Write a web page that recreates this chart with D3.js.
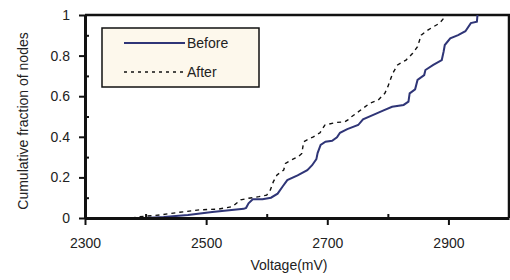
<!DOCTYPE html>
<html>
<head>
<meta charset="utf-8">
<script src="https://cdn.jsdelivr.net/npm/d3@7"></script>
<style>
  body { margin: 0; background: #fff; }
  svg { display: block; font-family: "Liberation Sans", Arial, sans-serif; }
  .tick text { font-size: 14px; fill: #222; }
</style>
</head>
<body>
<svg id="chart" width="510" height="280"></svg>
<script>
// voltage (mV) / cumulative fraction
const beforeV = [2398, 2430, 2470, 2510, 2562, 2566, 2570, 2577, 2593, 2607, 2618, 2626, 2634, 2651, 2667, 2675, 2682, 2684, 2689, 2697, 2708, 2716, 2721, 2733, 2751, 2759, 2775, 2792, 2807, 2826, 2834, 2836, 2845, 2849, 2860, 2862, 2875, 2889, 2892, 2894, 2903, 2916, 2928, 2937, 2947, 2948];
const beforeF = [0, 0.005, 0.015, 0.03, 0.045, 0.05, 0.072, 0.092, 0.092, 0.10, 0.12, 0.154, 0.187, 0.21, 0.236, 0.26, 0.29, 0.32, 0.36, 0.376, 0.38, 0.397, 0.42, 0.438, 0.458, 0.486, 0.507, 0.529, 0.548, 0.557, 0.573, 0.614, 0.634, 0.68, 0.704, 0.729, 0.754, 0.778, 0.819, 0.852, 0.885, 0.901, 0.92, 0.96, 0.967, 1.0];

const afterV = [2377, 2390, 2423, 2456, 2489, 2521, 2543, 2557, 2570, 2587, 2600, 2606, 2611, 2617, 2628, 2631, 2641, 2652, 2658, 2661, 2666, 2677, 2688, 2696, 2713, 2729, 2734, 2740, 2748, 2770, 2784, 2795, 2800, 2805, 2808, 2816, 2830, 2841, 2849, 2855, 2866, 2885, 2892, 2892];
const afterF = [0, 0.006, 0.015, 0.028, 0.04, 0.044, 0.056, 0.089, 0.097, 0.105, 0.113, 0.138, 0.179, 0.212, 0.236, 0.269, 0.286, 0.302, 0.318, 0.376, 0.384, 0.40, 0.42, 0.458, 0.47, 0.474, 0.483, 0.499, 0.516, 0.565, 0.581, 0.614, 0.647, 0.688, 0.713, 0.754, 0.778, 0.811, 0.844, 0.901, 0.926, 0.959, 0.983, 1.0];

const xMajor = [2300, 2500, 2700, 2900];
const xMinor = [2400, 2600, 2800];
const yMajor = [0, 0.2, 0.4, 0.6, 0.8, 1];
const yMinor = [0.1, 0.3, 0.5, 0.7, 0.9];
const seriesNames = ["Before", "After"];

const svg = d3.select("#chart");
const x = d3.scaleLinear().domain([2300, 3000]).range([85, 509]);
const y = d3.scaleLinear().domain([0, 1]).range([218, 15]);

const navy = "#2f3577";

// frame (top and right)
svg.append("path")
  .attr("d", `M${x.range()[0]},${y(1)}H${x.range()[1]}V${y(0)}`)
  .attr("fill", "none").attr("stroke", "#111").attr("stroke-width", 2.5);

const line = d3.line().x(d => x(d[0])).y(d => y(d[1]));
const before = beforeV.map((v, i) => [v, beforeF[i]]);
const after = afterV.map((v, i) => [v, afterF[i]]);

svg.append("path").datum(after)
  .attr("d", line).attr("fill", "none")
  .attr("stroke", "#111").attr("stroke-width", 1.4)
  .attr("stroke-dasharray", "4,4");

svg.append("path").datum(before)
  .attr("d", line).attr("fill", "none")
  .attr("stroke", navy).attr("stroke-width", 2);

// minor ticks, pointing in
svg.append("g").attr("transform", `translate(0,${y(0)})`)
  .call(d3.axisBottom(x).tickValues(xMinor).tickSize(-4).tickFormat(""))
  .call(g => g.select(".domain").remove())
  .call(g => g.selectAll("line").attr("stroke", "#111").attr("stroke-width", 2));
svg.append("g").attr("transform", `translate(${x(2300)},0)`)
  .call(d3.axisLeft(y).tickValues(yMinor).tickSize(-4).tickFormat(""))
  .call(g => g.select(".domain").remove())
  .call(g => g.selectAll("line").attr("stroke", "#111").attr("stroke-width", 2));

// major axes
const xAxis = svg.append("g").attr("transform", `translate(0,${y(0)})`)
  .call(d3.axisBottom(x).tickValues(xMajor).tickSize(7).tickSizeOuter(0).tickPadding(13).tickFormat(d3.format("d")));
const yAxis = svg.append("g").attr("transform", `translate(${x(2300)},0)`)
  .call(d3.axisLeft(y).tickValues(yMajor).tickSize(6).tickSizeOuter(0).tickPadding(9).tickFormat(d => d));
[xAxis, yAxis].forEach(g => {
  g.select(".domain").attr("stroke", "#111").attr("stroke-width", 3);
  g.selectAll(".tick line").attr("stroke", "#111").attr("stroke-width", 2);
  g.attr("font-family", null).attr("font-size", null);
});

// axis titles
svg.append("text")
  .attr("x", 289).attr("y", 270)
  .attr("text-anchor", "middle").attr("font-size", 14).attr("fill", "#222")
  .text("Voltage(mV)");
svg.append("text")
  .attr("transform", "translate(28,121) rotate(-90)")
  .attr("text-anchor", "middle").attr("font-size", 14).attr("fill", "#222")
  .text("Cumulative fraction of nodes");

// legend
const legend = svg.append("g");
legend.append("rect")
  .attr("x", 102).attr("y", 28).attr("width", 157).attr("height", 59)
  .attr("fill", "#fdf8ec").attr("stroke", "#111").attr("stroke-width", 1.5);
seriesNames.forEach((name, i) => {
  const ly = 43 + i * 29;
  legend.append("line")
    .attr("x1", 124).attr("x2", 185).attr("y1", ly).attr("y2", ly)
    .attr("stroke", i === 0 ? navy : "#111")
    .attr("stroke-width", i === 0 ? 2 : 1.4)
    .attr("stroke-dasharray", i === 0 ? null : "3,4");
  legend.append("text")
    .attr("x", 187).attr("y", ly + 5)
    .attr("font-size", 14).attr("fill", "#222")
    .text(name);
});
</script>
</body>
</html>
